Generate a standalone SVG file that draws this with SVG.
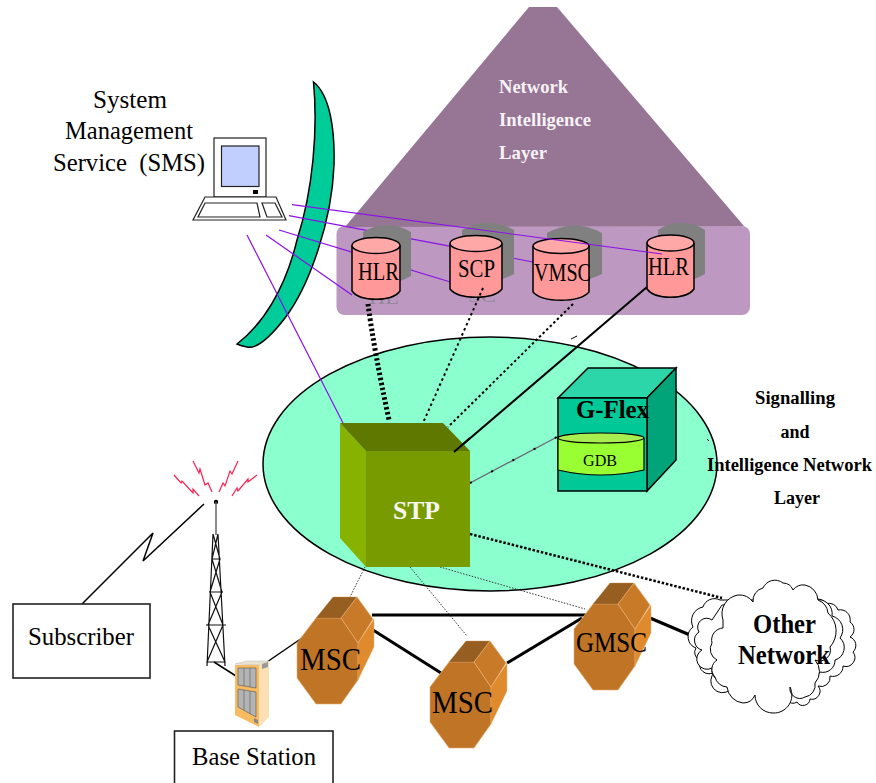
<svg xmlns="http://www.w3.org/2000/svg" width="876" height="783" viewBox="0 0 876 783">
<style>
text{font-family:"Liberation Serif","Times New Roman",serif;fill:#000}
.b{font-weight:bold}
.w{fill:#f6f2f6}
.ghost{fill:#948698}
.back{fill:#808080}
.pink{fill:#ff9999;stroke:#000;stroke-width:1.5}
.pinktop{fill:#ffa8a8;stroke:#000;stroke-width:1.5}
.vio{stroke:#8a10e8;stroke-width:1.2;fill:none}
.blk{stroke:#000;fill:none}
.thick{stroke:#000;stroke-width:3;fill:none}
.thin{stroke:#333;stroke-width:1;stroke-dasharray:1.5 1.5;fill:none}
.box{fill:#fff;stroke:#222;stroke-width:1.6}
.f{fill:#c07526;stroke:#e8b070;stroke-width:.6}
.t{fill:#965e20;stroke:#c89050;stroke-width:.4}
.u{fill:#c87a28;stroke:#e8b070;stroke-width:.6}
.l{fill:#e08a2e;stroke:#e8b070;stroke-width:.4}
.spark{fill:none;stroke:#ff2050;stroke-width:1.2}
.tw{fill:none;stroke:#111;stroke-width:1.2}
.cl{fill:#fff;stroke:#000;stroke-width:1}
.pc{fill:#fff;stroke:#222;stroke-width:1.2}
</style>
<defs>
<g id="oct">
<polygon class="f" points="316,618 341,618 358,643 358,680 341,704 316,704 297,678 297,643"/>
<polygon class="t" points="316,618 333,597 357,597 341,618"/>
<polygon class="u" points="341,618 357,597 373,619 358,643"/>
<polygon class="l" points="358,643 374,619 374,647 358,680"/>
</g>
</defs>

<path id="crescent" d="M313.5,82C330,95 335,130 334,165C332,220 310,285 285,318C268,340 255,349 247,347Q241,346 237,344C262,325 285,290 297,240C313,190 318,130 313.5,82Z" fill="#00cc99" stroke="#000" stroke-width="1.5"/>

<g id="intelligence-layer">
<rect x="336.500" y="226" width="413.500" height="89" rx="8" fill="#bd98c0"/>
<polygon points="529,7 557,7 744,226 345,227" fill="#977595"/>
<text class="b w" font-size="19" x="499" y="92.500" textLength="69" lengthAdjust="spacingAndGlyphs">Network</text>
<text class="b w" font-size="19" x="499" y="126" textLength="92" lengthAdjust="spacingAndGlyphs">Intelligence</text>
<text class="b w" font-size="19" x="499" y="159" textLength="48" lengthAdjust="spacingAndGlyphs">Layer</text>
</g>

<g id="signalling-layer">
<ellipse cx="490" cy="464" rx="227" ry="127" fill="#8cffcf" stroke="#000" stroke-width="1.500"/>
<text class="b" font-size="18" x="795" y="404" text-anchor="middle" textLength="80" lengthAdjust="spacingAndGlyphs">Signalling</text>
<text class="b" font-size="18" x="795" y="438" text-anchor="middle">and</text>
<text class="b" font-size="18" x="789.500" y="471" text-anchor="middle" textLength="165" lengthAdjust="spacingAndGlyphs">Intelligence Network</text>
<text class="b" font-size="18" x="797" y="504" text-anchor="middle">Layer</text>
</g>

<g id="connectors-behind">
<line class="vio" x1="289" y1="215.700" x2="533" y2="262"/>
<line class="vio" x1="279" y1="230" x2="452" y2="282.500"/>
<line class="vio" x1="266" y1="235" x2="352" y2="295"/>
</g>

<g id="hlr1">
<path class="back" d="M363,232Q387,218 411,232V276Q387,290 363,276Z"/>
<text class="ghost" font-size="16" x="369" y="303.500" textLength="30" lengthAdjust="spacingAndGlyphs">HL</text>
<path class="pink" d="M352,245.500V291C360,302 392,302 400,291V245.500"/>
<ellipse class="pinktop" cx="376" cy="245.500" rx="24" ry="8"/>
<text font-size="25" x="358" y="280" textLength="41" lengthAdjust="spacingAndGlyphs">HLR</text>
</g>
<g id="scp">
<path class="back" d="M462,230Q488,215 514,230V274Q488,288 462,274Z"/>
<text class="ghost" font-size="16" x="468" y="302" textLength="28" lengthAdjust="spacingAndGlyphs">SC</text>
<path class="pink" d="M450,243.500V289C459,300 493,300 502,289V243.500"/>
<ellipse class="pinktop" cx="476" cy="243.500" rx="26" ry="8"/>
<text font-size="25" x="458" y="277" textLength="37" lengthAdjust="spacingAndGlyphs">SCP</text>
</g>
<g id="vmsc">
<path class="back" d="M547,233Q574.500,218 602,233V274Q574.500,288 547,274Z"/>
<path class="pink" d="M533,246V292C543,303 579,303 589,292V246"/>
<ellipse class="pinktop" cx="561" cy="246" rx="28" ry="7.500"/>
<text font-size="25" x="534" y="281" textLength="57" lengthAdjust="spacingAndGlyphs">VMSC</text>
</g>
<g id="hlr2">
<path class="back" d="M658,230Q681.500,215 705,230V274Q681.500,288 658,274Z"/>
<path class="pink" d="M647,243V289C655,300 686,300 694,289V243"/>
<ellipse class="pinktop" cx="670.500" cy="243" rx="23.500" ry="8"/>
<text font-size="25" x="648" y="275" textLength="41" lengthAdjust="spacingAndGlyphs">HLR</text>
</g>

<g id="sms">
<text font-size="25" x="130" y="108" text-anchor="middle" textLength="74" lengthAdjust="spacingAndGlyphs">System</text>
<text font-size="25" x="129" y="139" text-anchor="middle" textLength="128" lengthAdjust="spacingAndGlyphs">Management</text>
<text font-size="25" x="129" y="171" text-anchor="middle" textLength="152" lengthAdjust="spacingAndGlyphs" xml:space="preserve">Service  (SMS)</text>
<rect class="pc" x="214" y="138" width="52" height="59"/>
<rect x="221.500" y="146" width="37.500" height="40.500" fill="#c0cfff" stroke="#222" stroke-width="1.200"/>
<rect x="253" y="190" width="5" height="4" fill="#000"/>
<polygon class="pc" points="205,197 276,197 286,220 193,220"/>
<polygon class="pc" points="205,203 257,203 260,217 198,217"/>
<polygon class="pc" points="262,203 275,203 282,217 267,217"/>
</g>

<g id="connectors">
<line class="vio" x1="292" y1="204.700" x2="662" y2="254"/>
<line class="vio" x1="247" y1="235" x2="343" y2="423"/>
<path class="blk" d="M368,304Q374,350 389,420" stroke-width="5" stroke-dasharray="2.500 2.500"/>
<line class="blk" x1="483" y1="288" x2="423" y2="423" stroke-width="2" stroke-dasharray="2.500 3"/>
<line class="blk" x1="573" y1="304" x2="448" y2="427" stroke-width="2" stroke-dasharray="2.500 2.500"/>
<line class="blk" x1="647" y1="287" x2="454" y2="452" stroke-width="2"/>
<line x1="470" y1="483" x2="557" y2="437" stroke="#667" stroke-width="1.300"/>
<line class="blk" x1="470" y1="483" x2="557" y2="437" stroke-width="2" stroke-dasharray="2 22"/>
<line class="blk" x1="470" y1="534" x2="722" y2="598" stroke-width="2.500" stroke-dasharray="2.500 1.800"/>
<line class="thin" x1="365" y1="567" x2="350" y2="597"/>
<line class="thin" x1="410" y1="567" x2="467" y2="636"/>
<line class="thin" x1="440" y1="567" x2="585" y2="609"/>
<line class="blk" x1="571" y1="339" x2="577" y2="336" stroke-width="1"/>
<line class="blk" x1="707" y1="439" x2="709" y2="441" stroke-width="1"/>
<line class="thick" x1="372" y1="615" x2="586" y2="615"/>
<line class="thick" x1="373" y1="630" x2="441" y2="673"/>
<line class="thick" x1="507" y1="663" x2="582" y2="618"/>
<line class="thick" x1="650" y1="618" x2="697" y2="638"/>
<polyline class="blk" stroke-width="1.500" points="82,604 153,533 143,561 204,504"/>
<line class="blk" stroke-width="1.500" x1="214" y1="662" x2="236" y2="676"/>
<line class="blk" stroke-width="1.500" x1="267" y1="662" x2="302" y2="638"/>
</g>

<g id="stp">
<polygon points="340,423 366,451 366,567 340,538" fill="#88b200"/>
<polygon points="340,423 443,423 470,451 366,451" fill="#5f7800"/>
<rect x="366" y="451" width="104" height="116" fill="#789b00"/>
<line class="blk" x1="454" y1="452" x2="470" y2="438" stroke-width="2"/>
<text class="b" font-size="26" x="393" y="519" textLength="47" lengthAdjust="spacingAndGlyphs" style="fill:#f8f8f0">STP</text>
</g>

<g id="gflex">
<polygon points="558,398 588,368 676,368 647,398" fill="#2dd6a8" stroke="#000" stroke-width="1.500"/>
<polygon points="647,398 676,368 676,460 647,491" fill="#00a478" stroke="#000" stroke-width="1.500"/>
<rect x="558" y="398" width="89" height="93" fill="#00c896" stroke="#000" stroke-width="1.500"/>
<text class="b" font-size="26" x="576" y="418" textLength="73" lengthAdjust="spacingAndGlyphs">G-Flex</text>
<path d="M558,438V470Q601,480 644,470V438" fill="#99ff33" stroke="#000" stroke-width="1.200"/>
<ellipse cx="601" cy="438" rx="43" ry="5" fill="#a8ee50" stroke="#000" stroke-width="1.200"/>
<text font-size="17" x="583" y="466" textLength="34" lengthAdjust="spacingAndGlyphs">GDB</text>
</g>

<g id="msc1"><use href="#oct"/><text font-size="32" x="300" y="670" textLength="61" lengthAdjust="spacingAndGlyphs">MSC</text></g>
<g id="msc2"><use href="#oct" transform="translate(133,44)"/><text font-size="32" x="432" y="713" textLength="61" lengthAdjust="spacingAndGlyphs">MSC</text></g>
<g id="gmsc"><use href="#oct" transform="translate(277,-14)"/><text font-size="29" x="576" y="652" textLength="71" lengthAdjust="spacingAndGlyphs">GMSC</text></g>

<g id="other-network">
<path class="cl" d="M696,648A12,12 0 0 1 693,627A14,14 0 0 1 703,607A12,12 0 0 1 720,600L815,600A8,8 0 0 1 826,604A9,9 0 0 1 838,610A10,10 0 0 1 850,622A9,9 0 0 1 850,637A9,9 0 0 1 853,652A9,9 0 0 1 843,666A10,10 0 0 1 830,676A9,9 0 0 1 818,686A8,8 0 0 1 810,699A7,7 0 0 1 797,702A7,7 0 0 1 787,700L730,690A10,10 0 0 1 715,672A10,10 0 0 1 700,660A8,8 0 0 1 696,648Z"/>
<path class="cl" d="M702,650A10,10 0 0 1 699,632A9,9 0 0 1 712,620L722,605L815,600A14,14 0 0 1 832,616A14,14 0 0 1 840,638A13,13 0 0 1 835,660A12,12 0 0 1 820,672L808,690L790,692L730,680A12,12 0 0 1 712,668A10,10 0 0 1 702,650Z"/>
<path class="cl" d="M723,620A19,19 0 0 1 738,595A17,17 0 0 1 753,602A13,13 0 0 1 763,588A13,13 0 0 1 783,583A11,11 0 0 1 793,590A13,13 0 0 1 805,585A16,16 0 0 1 818,600A16,16 0 0 1 828,613A24,24 0 0 1 830,647A11,11 0 0 1 815,660A17,17 0 0 1 815,683A12,12 0 0 1 805,697A10,10 0 0 1 790,687A18,18 0 0 1 773,713A18,18 0 0 1 755,695A13,13 0 0 1 743,703A18,18 0 0 1 727,687A13,13 0 0 1 715,677A11,11 0 0 1 717,660A12,12 0 0 1 712,643A12,12 0 0 1 723,628Z"/>
<text class="b" font-size="27" x="753" y="633" textLength="63" lengthAdjust="spacingAndGlyphs">Other</text>
<text class="b" font-size="27" x="738" y="664" textLength="92" lengthAdjust="spacingAndGlyphs">Network</text>
</g>

<g id="subscriber">
<rect class="box" x="13" y="604" width="137" height="74"/>
<text font-size="25" x="28" y="645" textLength="106" lengthAdjust="spacingAndGlyphs">Subscriber</text>
</g>

<g id="tower">
<polyline class="spark" points="174,475 181,483 182,481 193,493 193,489 199,496"/>
<polyline class="spark" points="193,461 199,473 200,469 205,485 208,483 212,492"/>
<polyline class="spark" points="238,461 232,474 230,471 225,486 223,483 219,492"/>
<polyline class="spark" points="257,475 248,482 248,479 238,491 237,488 232,496"/>
<circle cx="216" cy="502" r="2.200" fill="#000"/>
<line x1="216" y1="502" x2="216" y2="535" stroke="#666" stroke-width="1.500"/>
<path class="tw" d="M213,534L207,666M218,534L225,666M213,534L220,559L212,559M218,534L212,559M212,559L222,592L210,592L220,559M210,592L223,625L208,625L222,592M208,625L225,662L207,662L223,625M212,559H220M206,625H226M209,592H223"/>
</g>

<g id="base-station">
<polygon points="235,664 247,661 269,661 259,665" fill="#e8e4d0" stroke="#bbb" stroke-width=".5"/>
<polygon points="259,665 269,661 269,717 259,727" fill="#fce0b4"/>
<polygon points="235,665 259,665 259,727 235,715" fill="#f7bb62"/>
<polygon points="238,668 256,668 256,688 238,685" fill="#b4b4b4" stroke="#555" stroke-width=".6"/>
<polygon points="238,689 256,692 256,717 238,707" fill="#b4b4b4" stroke="#555" stroke-width=".6"/>
<path d="M244,668V686M250,668V687M244,690V710M250,691V714" stroke="#666" stroke-width=".7"/>
<polygon points="254,718 258,720 258,724 254,722" fill="#888"/>
<polygon points="262,664 268,662 268,667 262,669" fill="#999"/>
</g>
<g id="base-station-label">
<rect class="box" x="174.500" y="731" width="158.500" height="60"/>
<text font-size="25" x="192" y="765" textLength="124" lengthAdjust="spacingAndGlyphs">Base Station</text>
</g>
</svg>
